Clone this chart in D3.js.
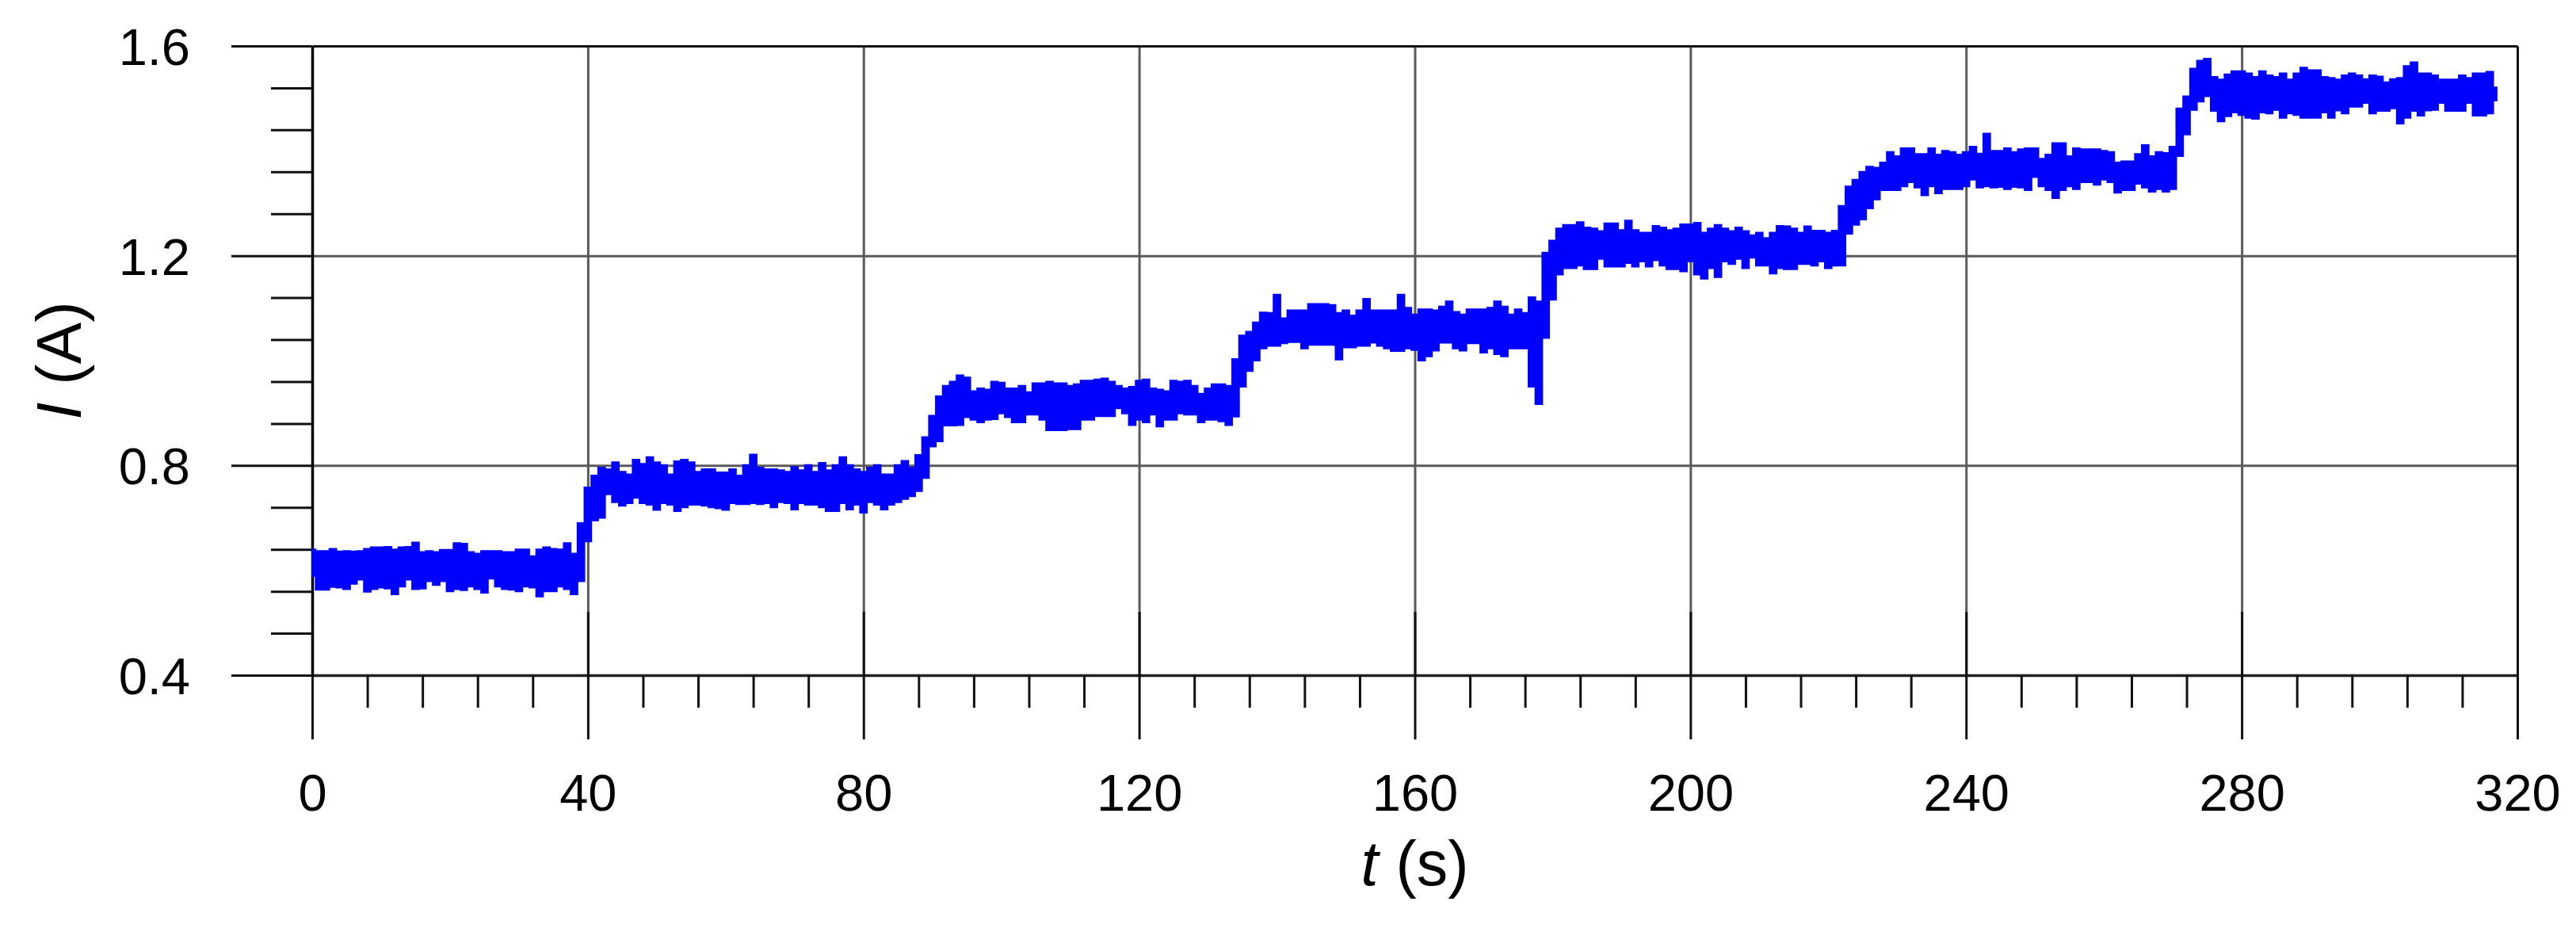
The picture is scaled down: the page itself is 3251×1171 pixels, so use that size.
<!DOCTYPE html>
<html>
<head>
<meta charset="utf-8">
<script src="https://cdn.jsdelivr.net/npm/d3@7"></script>
<style>
  html, body { margin: 0; padding: 0; background: #ffffff; }
  svg { display: block; }
  text { font-family: "Liberation Sans", Arial, Helvetica, sans-serif; fill: #000; }
</style>
</head>
<body>
<svg id="chart" width="3251" height="1171"></svg>
<script>
// ---------------- data ----------------
// Sample times in seconds (one sample per second, 0 ... 317 s)
const sampleTimes = d3.range(0, 318);

// Upper envelope of the measured current band, I (A)
const currentHigh = [
  0.640,0.637,0.637,0.641,0.636,0.637,0.636,0.637,0.641,0.644,
  0.644,0.645,0.640,0.644,0.645,0.653,0.635,0.637,0.635,0.639,
  0.639,0.652,0.651,0.635,0.632,0.637,0.637,0.637,0.635,0.635,
  0.640,0.640,0.627,0.640,0.644,0.641,0.640,0.652,0.632,0.690,
  0.758,0.781,0.796,0.793,0.806,0.788,0.783,0.811,0.803,0.816,
  0.806,0.801,0.783,0.808,0.811,0.806,0.788,0.793,0.793,0.787,
  0.787,0.793,0.781,0.801,0.821,0.796,0.793,0.793,0.791,0.788,
  0.797,0.791,0.801,0.788,0.805,0.791,0.801,0.816,0.801,0.793,
  0.788,0.796,0.801,0.783,0.783,0.801,0.809,0.796,0.820,0.854,
  0.895,0.932,0.952,0.960,0.972,0.968,0.942,0.947,0.945,0.960,
  0.958,0.947,0.947,0.952,0.940,0.957,0.957,0.960,0.957,0.957,
  0.952,0.955,0.962,0.962,0.964,0.966,0.960,0.952,0.947,0.950,
  0.962,0.964,0.947,0.945,0.942,0.962,0.960,0.962,0.952,0.937,
  0.947,0.955,0.955,0.952,1.003,1.048,1.055,1.073,1.092,1.091,
  1.126,1.081,1.096,1.096,1.096,1.108,1.108,1.108,1.106,1.091,
  1.096,1.086,1.096,1.118,1.096,1.096,1.096,1.096,1.126,1.101,
  1.088,1.098,1.098,1.096,1.103,1.113,1.093,1.088,1.098,1.098,
  1.098,1.101,1.113,1.103,1.088,1.098,1.091,1.121,1.113,1.206,
  1.229,1.252,1.259,1.259,1.264,1.254,1.252,1.247,1.262,1.262,
  1.249,1.267,1.249,1.244,1.244,1.257,1.254,1.249,1.252,1.260,
  1.260,1.263,1.244,1.252,1.259,1.252,1.247,1.254,1.247,1.239,
  1.244,1.234,1.244,1.257,1.256,1.252,1.244,1.256,1.248,1.248,
  1.244,1.248,1.295,1.332,1.345,1.360,1.370,1.368,1.378,1.398,
  1.390,1.405,1.405,1.394,1.394,1.405,1.393,1.400,1.398,1.393,
  1.398,1.408,1.395,1.433,1.400,1.400,1.405,1.398,1.403,1.405,
  1.405,1.385,1.393,1.415,1.415,1.390,1.405,1.403,1.403,1.403,
  1.400,1.398,1.378,1.380,1.380,1.394,1.411,1.390,1.398,1.396,
  1.408,1.481,1.504,1.557,1.572,1.576,1.541,1.536,1.546,1.552,
  1.552,1.548,1.541,1.552,1.544,1.541,1.548,1.536,1.548,1.559,
  1.554,1.554,1.541,1.539,1.536,1.544,1.548,1.544,1.537,1.544,
  1.542,1.531,1.537,1.539,1.562,1.569,1.548,1.548,1.544,1.536,
  1.536,1.536,1.544,1.539,1.548,1.548,1.551,1.521
];

// Lower envelope of the measured current band, I (A)
const currentLow = [
  0.589,0.563,0.563,0.568,0.567,0.564,0.574,0.582,0.559,0.564,
  0.567,0.565,0.554,0.569,0.582,0.564,0.565,0.579,0.572,0.579,
  0.560,0.564,0.562,0.569,0.564,0.557,0.584,0.569,0.564,0.563,
  0.560,0.569,0.567,0.550,0.560,0.560,0.569,0.564,0.554,0.579,
  0.655,0.695,0.700,0.745,0.730,0.723,0.728,0.738,0.728,0.725,
  0.715,0.728,0.725,0.713,0.720,0.725,0.725,0.723,0.720,0.718,
  0.715,0.728,0.726,0.726,0.728,0.726,0.728,0.720,0.730,0.728,
  0.716,0.728,0.725,0.725,0.720,0.713,0.713,0.728,0.716,0.725,
  0.710,0.730,0.725,0.716,0.725,0.730,0.736,0.741,0.751,0.776,
  0.836,0.846,0.876,0.876,0.877,0.892,0.887,0.882,0.887,0.888,
  0.899,0.892,0.882,0.882,0.897,0.897,0.887,0.867,0.867,0.867,
  0.869,0.869,0.887,0.887,0.894,0.894,0.894,0.909,0.899,0.877,
  0.887,0.882,0.897,0.874,0.887,0.887,0.899,0.897,0.897,0.882,
  0.887,0.887,0.884,0.877,0.893,0.950,0.980,1.000,1.023,1.028,
  1.028,1.033,1.035,1.035,1.023,1.030,1.030,1.030,1.030,1.002,
  1.025,1.025,1.028,1.028,1.034,1.028,1.023,1.018,1.018,1.023,
  1.020,1.000,1.008,1.019,1.034,1.034,1.023,1.019,1.033,1.033,
  1.015,1.023,1.012,1.008,1.023,1.023,1.023,0.950,0.917,1.043,
  1.116,1.164,1.176,1.176,1.181,1.174,1.174,1.194,1.179,1.179,
  1.179,1.186,1.179,1.189,1.179,1.191,1.181,1.174,1.174,1.170,
  1.189,1.164,1.156,1.176,1.159,1.189,1.184,1.194,1.176,1.196,
  1.181,1.181,1.166,1.176,1.174,1.174,1.184,1.184,1.181,1.189,
  1.176,1.181,1.181,1.242,1.259,1.269,1.290,1.307,1.325,1.325,
  1.325,1.332,1.340,1.330,1.315,1.332,1.319,1.327,1.327,1.327,
  1.332,1.345,1.330,1.332,1.330,1.331,1.327,1.331,1.330,1.325,
  1.350,1.332,1.325,1.310,1.325,1.332,1.327,1.340,1.340,1.335,
  1.345,1.340,1.320,1.325,1.325,1.337,1.330,1.322,1.327,1.322,
  1.327,1.390,1.431,1.478,1.494,1.504,1.476,1.456,1.466,1.473,
  1.468,1.463,1.461,1.473,1.471,1.478,1.463,1.471,1.468,1.463,
  1.463,1.463,1.473,1.463,1.477,1.471,1.484,1.484,1.491,1.471,
  1.476,1.476,1.481,1.452,1.463,1.476,1.467,1.477,1.478,1.491,
  1.476,1.476,1.476,1.491,1.467,1.467,1.471,1.496
];

// Axis ticks
const xMajorTicks = [0, 40, 80, 120, 160, 200, 240, 280, 320];
const xMinorTicks = [8,16,24,32, 48,56,64,72, 88,96,104,112, 128,136,144,152,
                     168,176,184,192, 208,216,224,232, 248,256,264,272, 288,296,304,312];
const yMajorTicks = [0.4, 0.8, 1.2, 1.6];
const yMinorTicks = [0.48,0.56,0.64,0.72, 0.88,0.96,1.04,1.12, 1.28,1.36,1.44,1.52];
const xTickLabels = ["0","40","80","120","160","200","240","280","320"];
const yTickLabels = ["0.4","0.8","1.2","1.6"];
const xTitle = ["t", " (s)"];
const yTitle = ["I", " (A)"];

// ---------------- layout ----------------
const L = 394, R = 3177, T = 58, B = 852;
const svg = d3.select("#chart");

const x = d3.scaleLinear().domain([0, 320]).range([L, R]);
const y = d3.scaleLinear().domain([0.4, 1.6]).range([B, T]);

const axisColor = "#111";
const gridColor = "#5a5a5a";

// ---- grid lines ----
const gx = svg.append("g").attr("transform", `translate(0,${B})`)
  .call(d3.axisBottom(x).tickValues(xMajorTicks.slice(1, -1)).tickSize(-(B - T)).tickFormat(""));
gx.select(".domain").remove();
gx.selectAll("line").attr("stroke", gridColor).attr("stroke-width", 3);

const gy = svg.append("g").attr("transform", `translate(${L},0)`)
  .call(d3.axisLeft(y).tickValues(yMajorTicks.slice(1, -1)).tickSize(-(R - L)).tickFormat(""));
gy.select(".domain").remove();
gy.selectAll("line").attr("stroke", gridColor).attr("stroke-width", 3);

// ---- frame: top and right borders ----
const topAx = svg.append("g").attr("transform", `translate(0,${T})`)
  .call(d3.axisTop(x).tickValues([]).tickSizeOuter(0));
topAx.select(".domain").attr("stroke", axisColor).attr("stroke-width", 3);
const rightAx = svg.append("g").attr("transform", `translate(${R},0)`)
  .call(d3.axisRight(y).tickValues([]).tickSizeOuter(0));
rightAx.select(".domain").attr("stroke", axisColor).attr("stroke-width", 3);

// ---- bottom axis ----
const xMinorAx = svg.append("g").attr("transform", `translate(0,${B})`)
  .call(d3.axisBottom(x).tickValues(xMinorTicks).tickSize(41).tickSizeOuter(0).tickFormat(""));
xMinorAx.select(".domain").attr("stroke", "#222").attr("stroke-width", 3.5);
xMinorAx.selectAll(".tick line").attr("stroke", axisColor).attr("stroke-width", 3);

const xMajorAx = svg.append("g").attr("transform", `translate(0,${B})`)
  .call(d3.axisBottom(x).tickValues(xMajorTicks).tickSize(81).tickSizeOuter(0).tickFormat(""));
xMajorAx.select(".domain").remove();
xMajorAx.selectAll(".tick line").attr("y1", -80).attr("stroke", axisColor).attr("stroke-width", 3);

const xLab = svg.append("g").attr("transform", `translate(0,${B})`)
  .call(d3.axisBottom(x).tickValues(xMajorTicks).tickSize(0).tickFormat((d, i) => xTickLabels[i]));
xLab.select(".domain").remove();
xLab.selectAll("text").attr("y", 171).attr("dy", null)
  .attr("font-size", 65).attr("fill", "#000")
  .style("font-family", '"Liberation Sans", Arial, sans-serif');

// ---- left axis ----
const yMinorAx = svg.append("g").attr("transform", `translate(${L},0)`)
  .call(d3.axisLeft(y).tickValues(yMinorTicks).tickSize(52).tickSizeOuter(0).tickFormat(""));
yMinorAx.select(".domain").attr("stroke", "#000").attr("stroke-width", 3.5);
yMinorAx.selectAll(".tick line").attr("stroke", axisColor).attr("stroke-width", 3);

const yMajorAx = svg.append("g").attr("transform", `translate(${L},0)`)
  .call(d3.axisLeft(y).tickValues(yMajorTicks).tickSize(102).tickSizeOuter(0).tickFormat(""));
yMajorAx.select(".domain").remove();
yMajorAx.selectAll(".tick line").attr("stroke", axisColor).attr("stroke-width", 3);

const yLab = svg.append("g").attr("transform", `translate(${L},0)`)
  .call(d3.axisLeft(y).tickValues(yMajorTicks).tickSize(0).tickFormat((d, i) => yTickLabels[i]));
yLab.select(".domain").remove();
yLab.selectAll("text").attr("x", -(L - 240)).attr("dy", "0.36em")
  .attr("font-size", 65).attr("fill", "#000")
  .style("font-family", '"Liberation Sans", Arial, sans-serif');

// ---- data band ----
const band = sampleTimes.map((t, i) => ({ t: t, hi: currentHigh[i], lo: currentLow[i] }));
const area = d3.area()
  .x(d => x(d.t))
  .y0(d => y(d.lo))
  .y1(d => y(d.hi))
  .curve(d3.curveStep);
svg.append("path")
  .datum(band)
  .attr("d", area)
  .attr("fill", "#0000ff")
  .attr("stroke", "#0000ff")
  .attr("stroke-width", 2)
  .attr("stroke-linejoin", "miter");

// ---- axis titles ----
const xt = svg.append("text")
  .attr("x", (L + R) / 2).attr("y", 1117)
  .attr("text-anchor", "middle")
  .attr("font-size", 79);
xt.append("tspan").attr("font-style", "italic").text(xTitle[0]);
xt.append("tspan").text(xTitle[1]);

const yt = svg.append("text")
  .attr("transform", `translate(102,${(T + B) / 2}) rotate(-90)`)
  .attr("text-anchor", "middle")
  .attr("font-size", 79);
yt.append("tspan").attr("font-style", "italic").text(yTitle[0]);
yt.append("tspan").text(yTitle[1]);
</script>
</body>
</html>
